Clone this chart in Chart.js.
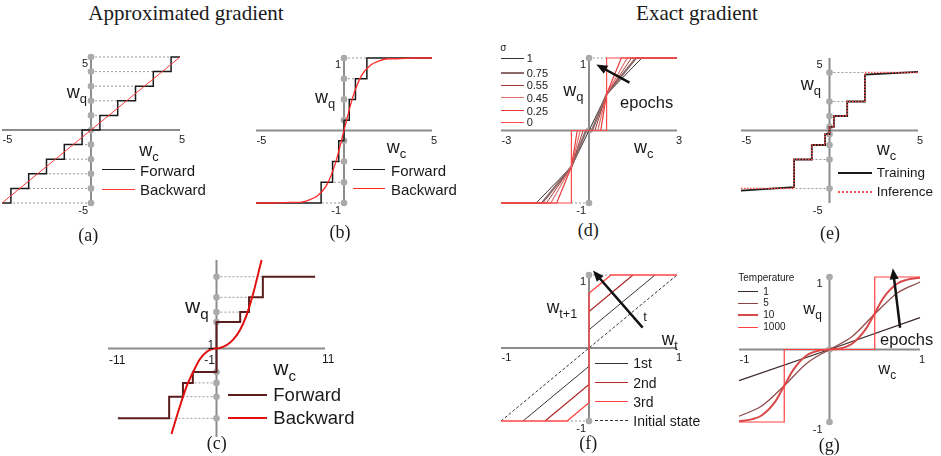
<!DOCTYPE html>
<html>
<head>
<meta charset="utf-8">
<script src="https://cdn.jsdelivr.net/npm/chart.js@4.4.0/dist/chart.umd.min.js"></script>
<style>
  body { margin: 0; background: #fff; width: 941px; height: 456px; position: relative; overflow: hidden;
         font-family: "Liberation Sans", Arial, sans-serif; color: #1a1a1a; }
  canvas { position: absolute; }
  .tx { position: absolute; white-space: nowrap; line-height: 1; }
  .c { transform: translate(-50%, -50%); }
  .l { transform: translate(0, -50%); }
  .serif { font-family: "Liberation Serif", "Times New Roman", serif; }
  .tx sub { font-size: 72%; vertical-align: -0.4em; line-height: 0; }
  .sw { position: absolute; height: 0; }
</style>
</head>
<body>
<script>
// ---- data ----
// (a) uniform quantizer: level starts (x) and levels (y)
const aStepX = [-5, -4.5, -3.5, -2.5, -1.5, -0.5, 0.5, 1.5, 2.5, 3.5, 4.5, 5];
const aStepY = [-5, -4, -3, -2, -1, 0, 1, 2, 3, 4, 5, 5];
const aBackX = [-5, 5];
const aBackY = [-5, 5];
const aDots = [-5, -4, -3, -2, -1, 0, 1, 2, 3, 4, 5];
const aGuideX = [-4.5, -3.5, -2.5, -1.5, -0.5, 0.5, 1.5, 2.5, 3.5, 4.5];
const aGuideY = [-5, -4, -3, -2, -1, 1, 2, 3, 4, 5];
const aTicks = ['-5', '5', '5', '-5'];

// (b) tanh quantizer
const bStepX = [-5, -1.3, -0.65, -0.3, 0, 0.3, 0.65, 1.3, 5];
const bStepY = [-1, -0.714, -0.429, -0.143, 0.143, 0.429, 0.714, 1, 1];
const bTanhX = [-5, -4, -3, -2.5, -2, -1.5, -1, -0.5, 0, 0.5, 1, 1.5, 2, 2.5, 3, 4, 5];
const bTanhY = [-1, -1, -0.99, -0.99, -0.96, -0.9, -0.76, -0.46, 0, 0.46, 0.76, 0.9, 0.96, 0.99, 0.99, 1, 1];
const bDots = [-1, -0.714, -0.429, -0.143, 0.143, 0.429, 0.714, 1];
const bGuideX = [-1.3, -0.65, -0.3, 0.3, 0.65, 1.3];
const bGuideY = [-1, -0.714, -0.429, 0.429, 0.714, 1];
const bTicks = ['-5', '5', '1', '-1'];

// (c) non-uniform quantizer with cubic backward
const cStepX = [-10, -4.8, -3.4, -2.4, 0, 2.4, 3.3, 4.7, 10];
const cStepY = [-7.1, -4.9, -3.5, -2.4, 2.7, 3.7, 5.2, 7.3, 7.3];
const cCurveX = [-4.57, -3.73, -3.05, -2.37, -1.69, -1.02, -0.34, 0.34, 1.02, 1.69, 2.37, 3.05, 3.72, 4.57];
const cCurveY = [-8.7, -5.95, -3.9, -2.4, -1.1, -0.35, -0.03, 0.06, 0.34, 0.9, 1.85, 3.4, 5.6, 9];
const cDots = [-7.1, -4.9, -3.5, -2.4, 2.7, 3.7, 5.2, 7.3];
const cGuideX = [-4.8, -3.4, -2.4, 2.4, 3.3, 4.7];
const cGuideY = [-7.1, -4.9, -3.5, 3.7, 5.2, 7.3];

// (d) ternary with sigma annealing
const dSigma = ['1', '0.75', '0.55', '0.45', '0.25', '0'];
const dEndX = [1.8, 1.6, 1.45, 1.3, 1.1, 0.6];
const dZeroX = [0, 0.1, 0.2, 0.3, 0.4, 0.6];
const dCross = [0.6, 0.5];
const dColors = ['#3a3232', '#8c6a6a', '#a23a3a', '#e07070', '#e63a3a', '#ff4a4a'];
const dWidths = [1, 2.2, 1, 1.2, 1.2, 1.2];
const dDots = [-1, 0, 1];
const dGuideX = [-0.6, 0.6];
const dGuideY = [-1, 1];
const dTicks = ['-3', '3', '1', '-1'];

// (e) power-of-two levels
const eTrainX = [-5, -2, -2, -1, -1, -0.25, -0.25, 0, 0, 0.25, 0.25, 1, 1, 2, 2, 5];
const eTrainY = [-4.15, -3.9, -2, -2, -1, -1, -0.25, -0.25, 0.25, 0.25, 1, 1, 2, 2, 3.85, 4.05];
const eInferX = [-5, -2, -1, -0.25, 0, 0.25, 1, 2, 5];
const eInferY = [-4, -2, -1, -0.25, 0.25, 1, 2, 4, 4];
const eDots = [-4, -2, -1, -0.25, 0.25, 1, 2, 4];
const eGuideX = [-2, -1, -0.25, 0.25, 1, 2];
const eGuideY = [-4, -2, -1, 1, 2, 4];
const eTicks = ['-5', '5', '5', '-5'];

// (f) binary weight update
const fInitX = [-1, 1];
const fInitY = [-1, 1];
const f1stX = [-0.75, 0, 0, 0, 0.75];
const f1stY = [-1, -0.25, null, 0.25, 1];
const f2ndX = [-0.5, 0, 0, 0, 0.5];
const f2ndY = [-1, -0.5, null, 0.5, 1];
const f3rdX = [-1, -0.25, 0, 0, 0.25, 1];
const f3rdY = [-1, -1, -0.75, 0.75, 1, 1];
const fDots = [-1, 1];
const fGuideX = [-0.25, 0.25];
const fGuideY = [-1, 1];
const fTicks = ['-1', '1', '1', '-1'];

// (g) temperature
const gTemps = ['1', '5', '10', '1000'];
const gT1X = [-1, 0, 1];
const gT1Y = [-0.43, 0, 0.44];
const gT5X = [-1, -0.75, -0.5, -0.25, 0, 0.25, 0.5, 0.75, 1];
const gT5Y = [-0.92, -0.78, -0.5, -0.19, 0, 0.18, 0.49, 0.78, 0.93];
const gT10X = [-1, -0.85, -0.75, -0.6, -0.5, -0.4, -0.25, -0.1, 0, 0.1, 0.25, 0.4, 0.5, 0.6, 0.75, 0.85, 1];
const gT10Y = [-0.99, -0.96, -0.91, -0.72, -0.5, -0.28, -0.08, -0.01, 0, 0.01, 0.08, 0.28, 0.5, 0.72, 0.91, 0.96, 0.99];
const gT1000X = [-1, -0.5, -0.5, 0.5, 0.5, 1];
const gT1000Y = [-1, -1, 0, 0, 1, 1];
const gColors = ['#3b2a2a', '#8c4646', '#d94848', '#ff4040'];
const gDots = [-1, 0, 1];
const gTicks = ['-1', '1', '1', '-1'];

// ---- helpers ----
const PAD = 14;
const pts = (xs, ys) => xs.map((x, i) => ({ x: x, y: ys[i] }));

function line(data, color, width, extra) {
  return Object.assign({ data: data, borderColor: color, borderWidth: width, pointRadius: 0,
    fill: false, tension: 0, clip: false }, extra || {});
}
function dots(ys) {
  return { data: ys.map(y => ({ x: 0, y: y })), showLine: false, pointRadius: 3.3,
    pointBackgroundColor: '#aaaaaa', pointBorderWidth: 0, clip: false };
}
function guides(xs, ys) {
  const d = [];
  xs.forEach((x, i) => { d.push({ x: 0, y: ys[i] }, { x: x, y: ys[i] }, { x: x, y: null }); });
  return line(d, '#9a9a9a', 1, { borderDash: [2, 2] });
}
function endLabels(xr, yr, t, dx) {
  return [
    { t: t[0], x: xr[0], y: 0, dx: 0.5, dy: 10, align: 'left' },
    { t: t[1], x: xr[1], y: 0, dx: 2, dy: 10 },
    { t: t[2], x: 0, y: yr[1], dx: dx, dy: 7, align: 'right' },
    { t: t[3], x: 0, y: yr[0], dx: dx, dy: 8, align: 'right' }
  ];
}

const crossAxes = {
  id: 'crossAxes',
  beforeDatasetsDraw(chart) {
    const ctx = chart.ctx, a = chart.chartArea;
    const x0 = chart.scales.x.getPixelForValue(0), y0 = chart.scales.y.getPixelForValue(0);
    ctx.save();
    ctx.strokeStyle = '#8c8c8c';
    ctx.lineWidth = 2;
    ctx.beginPath();
    ctx.moveTo(a.left, y0); ctx.lineTo(a.right, y0);
    ctx.moveTo(x0, a.top); ctx.lineTo(x0, a.bottom);
    ctx.stroke();
    ctx.restore();
  },
  afterDatasetsDraw(chart, args, opts) {
    const ctx = chart.ctx, sx = chart.scales.x, sy = chart.scales.y;
    ctx.save();
    ctx.fillStyle = '#1a1a1a';
    ctx.font = (opts.size || 11) + 'px "Liberation Sans", Arial, sans-serif';
    ctx.textBaseline = 'middle';
    (opts.labels || []).forEach(l => {
      ctx.textAlign = l.align || 'center';
      ctx.fillText(l.t, sx.getPixelForValue(l.x) + (l.dx || 0), sy.getPixelForValue(l.y) + (l.dy || 0));
    });
    if (opts.arrow) {
      const [x1, y1, x2, y2] = opts.arrow;
      const ax = sx.getPixelForValue(x1), ay = sy.getPixelForValue(y1);
      const bx = sx.getPixelForValue(x2), by = sy.getPixelForValue(y2);
      const ang = Math.atan2(by - ay, bx - ax), hl = 11, hw = 4.5;
      const c = Math.cos(ang), s = Math.sin(ang);
      ctx.strokeStyle = '#111';
      ctx.lineWidth = 2.5;
      ctx.beginPath();
      ctx.moveTo(ax, ay);
      ctx.lineTo(bx - hl * 0.8 * c, by - hl * 0.8 * s);
      ctx.stroke();
      ctx.fillStyle = '#111';
      ctx.beginPath();
      ctx.moveTo(bx, by);
      ctx.lineTo(bx - hl * c + hw * s, by - hl * s - hw * c);
      ctx.lineTo(bx - hl * c - hw * s, by - hl * s + hw * c);
      ctx.closePath();
      ctx.fill();
    }
    ctx.restore();
  }
};

function panel(box, xr, yr, datasets, extra) {
  const cv = document.createElement('canvas');
  cv.width = Math.round(box[2] + 2 * PAD);
  cv.height = Math.round(box[3] + 2 * PAD);
  cv.style.left = Math.round(box[0] - PAD) + 'px';
  cv.style.top = Math.round(box[1] - PAD) + 'px';
  document.body.appendChild(cv);
  new Chart(cv, {
    type: 'line',
    data: { datasets: datasets },
    options: {
      responsive: false, animation: false, devicePixelRatio: 1, events: [],
      layout: { padding: PAD },
      plugins: { legend: { display: false }, tooltip: { enabled: false }, crossAxes: extra || {} },
      scales: {
        x: { type: 'linear', min: xr[0], max: xr[1], display: false },
        y: { type: 'linear', min: yr[0], max: yr[1], display: false }
      }
    },
    plugins: [crossAxes]
  });
}

function txt(html, x, y, size, cls) {
  const d = document.createElement('div');
  d.className = 'tx ' + (cls || 'c');
  d.style.left = x + 'px';
  d.style.top = y + 'px';
  d.style.fontSize = size + 'px';
  d.innerHTML = html;
  document.body.appendChild(d);
}
function swatch(x1, x2, y, color, w, style) {
  const d = document.createElement('div');
  d.className = 'sw';
  d.style.left = x1 + 'px';
  d.style.width = (x2 - x1) + 'px';
  d.style.top = (y - w / 2) + 'px';
  d.style.borderTop = w + 'px ' + (style || 'solid') + ' ' + color;
  document.body.appendChild(d);
}

// ---- titles ----
txt('Approximated gradient', 186, 12.5, 21, 'c serif');
txt('Exact gradient', 697, 12.5, 21, 'c serif');

// ---- (a) ----
panel([2, 57, 178, 146], [-5, 5], [-5, 5], [
  line(pts(aBackX, aBackY), '#ff3a3a', 1),
  line(pts(aStepX, aStepY), '#1a1a1a', 1.5, { stepped: 'before' }),
  dots(aDots),
  guides(aGuideX, aGuideY)
], { labels: endLabels([-5, 5], [-5, 5], aTicks, -3) });
txt('w<sub>q</sub>', 66.7, 91.5, 18, 'l');
txt('w<sub>c</sub>', 139.3, 149.8, 18, 'l');
swatch(102, 135, 170, '#1a1a1a', 1.5);
swatch(102, 135, 189, '#ff3a3a', 1);
txt('Forward', 140, 170, 15, 'l');
txt('Backward', 140, 189, 15, 'l');
txt('(a)', 88.3, 235, 18, 'c serif');

// ---- (b) ----
panel([256, 58.3, 176, 145], [-5, 5], [-1, 1], [
  line(pts(bTanhX, bTanhY), '#ff2a2a', 1.3, { cubicInterpolationMode: 'monotone' }),
  line(pts(bStepX, bStepY), '#1a1a1a', 1.5, { stepped: 'before' }),
  dots(bDots),
  guides(bGuideX, bGuideY)
], { labels: endLabels([-5, 5], [-1, 1], bTicks, -3) });
txt('w<sub>q</sub>', 315, 96.5, 18, 'l');
txt('w<sub>c</sub>', 386.7, 146.5, 18, 'l');
swatch(352.7, 385, 170, '#1a1a1a', 1.5);
swatch(352.7, 385, 189, '#ff2a2a', 1.3);
txt('Forward', 391, 170, 15, 'l');
txt('Backward', 391, 189, 15, 'l');
txt('(b)', 340, 232, 18, 'c serif');

// ---- (d) ----
const dSets = dSigma.map((s, i) => line([
  { x: -3, y: -1 }, { x: -dEndX[i], y: -1 }, { x: -dCross[0], y: -dCross[1] },
  { x: -dZeroX[i], y: 0 }, { x: dZeroX[i], y: 0 }, { x: dCross[0], y: dCross[1] },
  { x: dEndX[i], y: 1 }, { x: 3, y: 1 }
], dColors[i], dWidths[i])).reverse();
panel([500.7, 58.3, 176, 145], [-3, 3], [-1, 1], dSets.concat([
  dots(dDots),
  guides(dGuideX, dGuideY)
]), { labels: endLabels([-3, 3], [-1, 1], dTicks, -3), arrow: [1.38, 0.66, 0.25, 0.91] });
txt('&sigma;', 503.3, 48, 10, 'c');
const dLegY = [58.3, 73.3, 85, 97.7, 111, 122.3];
dSigma.forEach((s, i) => {
  swatch(501, 524.3, dLegY[i], dColors[i], dWidths[i]);
  txt(s, 526.7, dLegY[i], 11, 'l');
});
txt('w<sub>q</sub>', 563.3, 89.8, 18, 'l');
txt('w<sub>c</sub>', 634, 146.5, 18, 'l');
txt('epochs', 646.7, 102, 16.5, 'c');
txt('(d)', 588.3, 230, 18, 'c serif');

// ---- (e) ----
panel([741, 58.3, 177.3, 145], [-5, 5], [-5, 5], [
  line(pts(eInferX, eInferY), '#ff4d4d', 1.5, { stepped: 'before', borderDash: [1.5, 1.5] }),
  line(pts(eTrainX, eTrainY), '#1a1a1a', 1.8),
  dots(eDots),
  guides(eGuideX, eGuideY)
], { labels: endLabels([-5, 5], [-5, 5], eTicks, -7) });
txt('w<sub>q</sub>', 800.7, 83.5, 18, 'l');
txt('w<sub>c</sub>', 876.7, 148.5, 18, 'l');
swatch(838.3, 871.7, 172.7, '#1a1a1a', 2);
swatch(838.3, 871.7, 192.3, '#ff4d4d', 2, 'dotted');
txt('Training', 876.7, 172.7, 13.5, 'l');
txt('Inference', 876.7, 192.3, 13.5, 'l');
txt('(e)', 830, 233, 18, 'c serif');

// ---- (c) ----
panel([108.3, 260, 216.7, 176.6], [-11, 11], [-9, 9], [
  line(pts(cCurveX, cCurveY), '#e01010', 2, { cubicInterpolationMode: 'monotone' }),
  line(pts(cStepX, cStepY), '#5a1c1c', 2, { stepped: 'before' }),
  dots(cDots),
  guides(cGuideX, cGuideY)
], { size: 12, labels: [
  { t: '-11', x: -11, y: 0, dx: 1, dy: 11.7, align: 'left' },
  { t: '11', x: 11, y: 0, dx: 3.3, dy: 11 },
  { t: '1', x: 0, y: 0, dx: -2.4, dy: -3.3, align: 'right' },
  { t: '-1', x: 0, y: 0, dx: -1.5, dy: 11.7, align: 'right' }
] });
txt('w<sub>q</sub>', 185, 305, 21, 'l');
txt('w<sub>c</sub>', 273.3, 367, 21, 'l');
swatch(228.3, 266.7, 395, '#5a1c1c', 2);
swatch(228.3, 266.7, 417.7, '#e01010', 2);
txt('Forward', 273.3, 395, 18.5, 'l');
txt('Backward', 273.3, 417.7, 18.5, 'l');
txt('(c)', 216.7, 442.7, 18, 'c serif');

// ---- (f) ----
panel([500.7, 275, 176, 145.7], [-1, 1], [-1, 1], [
  line(pts(f3rdX, f3rdY), '#ff4545', 1.3),
  line(pts(f2ndX, f2ndY), '#b02a2a', 1.2),
  line(pts(f1stX, f1stY), '#333333', 1),
  line(pts(fInitX, fInitY), '#333333', 1, { borderDash: [3, 2] }),
  dots(fDots),
  guides(fGuideX, fGuideY)
], { labels: endLabels([-1, 1], [-1, 1], fTicks, -3), arrow: [0.61, 0.28, 0.045, 1.06] });
txt('w<sub>t+1</sub>', 546.7, 308.2, 17.5, 'l');
txt('w<sub>t</sub>', 661.7, 339.8, 17.5, 'l');
txt('t', 645, 316, 13, 'c');
swatch(595, 628.3, 363.3, '#333333', 1);
swatch(595, 628.3, 382.7, '#b02a2a', 1.2);
swatch(595, 628.3, 401.7, '#ff4545', 1.3);
swatch(595, 628.3, 420.7, '#333333', 1, 'dashed');
txt('1st', 633.3, 363.3, 14, 'l');
txt('2nd', 633.3, 382.7, 14, 'l');
txt('3rd', 633.3, 401.7, 14, 'l');
txt('Initial state', 633.3, 420.7, 14, 'l');
txt('(f)', 588.3, 442.7, 18, 'c serif');

// ---- (g) ----
panel([739, 276.7, 181, 145], [-1, 1], [-1, 1], [
  line(pts(gT1000X, gT1000Y), gColors[3], 1.2),
  line(pts(gT10X, gT10Y), gColors[2], 2, { cubicInterpolationMode: 'monotone' }),
  line(pts(gT5X, gT5Y), gColors[1], 1.2, { cubicInterpolationMode: 'monotone' }),
  line(pts(gT1X, gT1Y), gColors[0], 1.2),
  dots(gDots)
], { labels: endLabels([-1, 1], [-1, 1], gTicks, -7), arrow: [0.78, 0.3, 0.70, 1.12] });
txt('Temperature', 738.3, 278.3, 10, 'l');
const gLegY = [291.7, 303.3, 315, 327.3];
gTemps.forEach((t, i) => {
  swatch(738.3, 758.3, gLegY[i], gColors[i], i === 2 ? 2 : 1.2);
  txt(t, 763.3, gLegY[i], 10, 'l');
});
txt('w<sub>q</sub>', 803.3, 308.2, 16.5, 'l');
txt('w<sub>c</sub>', 878.3, 368.2, 16.5, 'l');
txt('epochs', 906.7, 339.3, 16.5, 'c');
txt('(g)', 829.3, 445, 18, 'c serif');
</script>
</body>
</html>
